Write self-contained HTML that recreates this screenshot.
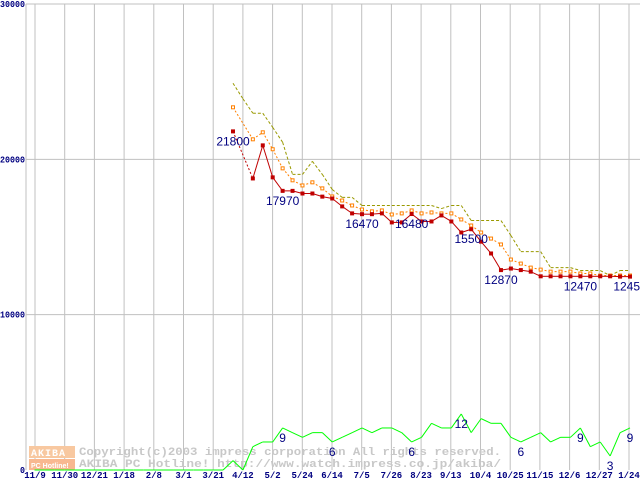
<!DOCTYPE html>
<html><head><meta charset="utf-8"><style>
html,body{margin:0;padding:0;background:#fff;width:640px;height:480px;overflow:hidden}
svg{display:block}
.yl{font:bold 9px "Liberation Mono",monospace;fill:#000080}
.xl{font:bold 9px "Liberation Mono",monospace;fill:#000080}
.vl{font:12px "Liberation Sans",sans-serif;fill:#000080}
.wm{font:bold 11px "Liberation Mono",monospace;fill:#c8c8c8}
</style></head><body>
<svg id="chart" width="640" height="480" xmlns="http://www.w3.org/2000/svg"></svg>
<script>
const dateLabels=["11/9","11/30","12/21","1/18","2/8","3/1","3/21","4/12","5/2","5/24","6/14","7/5","7/26","8/23","9/13","10/4","10/25","11/15","12/6","12/27","1/24"];
const yTicks=[0,10000,20000,30000];
const redPrice=[21800,null,18770,20900,18840,17970,17970,17800,17800,17600,17480,16970,16520,16470,16470,16520,15940,15940,16480,16000,16000,16390,16000,15290,15500,14700,13940,12870,12970,12870,12770,12470,12470,12470,12470,12470,12470,12470,12470,12450,12450];
const avgPrice=[23350,null,21290,21740,20650,19420,18650,18320,18520,18130,17610,17350,17030,16770,16650,16710,16450,16520,16710,16520,16580,16520,16520,16130,15740,15290,14900,14520,13550,13290,13030,12900,12770,12770,12770,12650,12650,12520,12520,12520,12520];
const maxPrice=[24900,23900,22970,22970,22060,21100,19030,19030,19870,19030,18060,17550,17550,17030,17030,17030,17030,17030,17030,17030,17030,16830,17030,17030,16060,16060,16060,16060,15100,14060,14060,14060,13030,13030,13030,12840,12840,12840,12520,12840,12840];
const shopCount=[0,0,0,0,0,0,0,0,0,0,0,0,0,0,0,0,0,0,0,0,2,0,5,6,6,9,8,7,8,8,6,7,8,9,8,9,9,8,6,7,10,9,9,12,8,11,10,10,7,6,7,8,6,7,7,9,5,6,3,8,9];
const priceLabels=[[0,"21800"],[5,"17970"],[13,"16470"],[18,"16480"],[24,"15500"],[27,"12870"],[35,"12470"],[40,"12450"]];
const countLabels=[[25,"9"],[30,"6"],[38,"6"],[43,"12"],[49,"6"],[55,"9"],[58,"3"],[60,"9"]];

const NS="http://www.w3.org/2000/svg";
const svg=document.getElementById('chart');
function el(t,a,p){const e=document.createElementNS(NS,t);for(const k in a)e.setAttribute(k,a[k]);(p||svg).appendChild(e);return e;}
const xi=i=>233+i*9.925;
const xg=j=>xi(j-20);
const yp=v=>470-v*0.015533;
const yc=v=>470-v*4.67;
const xgrid=k=>35+k*29.7;

const grid=el('g',{});


el('line',{x1:26,y1:4,x2:26,y2:470,stroke:'#c0c0c0','stroke-width':1},grid);
dateLabels.forEach((d,k)=>{
  const x=xgrid(k);
  el('line',{x1:x,y1:4,x2:x,y2:470,stroke:'#c0c0c0','stroke-width':1},grid);
  const t=el('text',{x:x,y:478,'text-anchor':'middle',class:'xl'});
  
  
  t.textContent=d;
});
yTicks.forEach(v=>{
  const y=yp(v);
  if(v>0) el('line',{x1:26,y1:y,x2:640,y2:y,stroke:'#c0c0c0','stroke-width':1},grid);
  const s=String(v);
  const t=el('text',{x:25,y:y+3,'text-anchor':'end',class:'yl',textLength:s.length*5,lengthAdjust:'spacingAndGlyphs'});
  
  
  t.textContent=s;
});

const wm=el('g',{});


el('rect',{x:29,y:446,width:46,height:12,fill:'#f8c8a0'},wm);
el('rect',{x:29,y:459,width:46,height:11,fill:'#f8b890'},wm);
const a1=el('text',{x:31,y:456,style:'font:bold 10px "Liberation Mono",monospace;fill:#fff;letter-spacing:1px'},wm);a1.textContent='AKIBA';
const a2=el('text',{x:31,y:468,style:'font:bold 7px "Liberation Sans",sans-serif;fill:#fff'},wm);a2.textContent='PC Hotline!';
const w1=el('text',{x:79,y:455,class:'wm',textLength:422,lengthAdjust:'spacingAndGlyphs'},wm);w1.textContent='Copyright(c)2003 impress corporation All rights reserved.';
const w2=el('text',{x:79,y:467,class:'wm',textLength:422,lengthAdjust:'spacingAndGlyphs'},wm);w2.textContent='AKIBA PC Hotline!  http://www.watch.impress.co.jp/akiba/';

// draw line: solid between consecutive values, dotted across gaps
function drawSeries(arr,fx,fy,color,dash,name){
  const g=el('g',{});
  
  
  let prev=-1;
  arr.forEach((v,i)=>{
    if(v===null)return;
    if(prev>=0){
      const gap=i-prev>1;
      const a={x1:fx(prev),y1:fy(arr[prev]),x2:fx(i),y2:fy(v),stroke:color,'stroke-width':1};
      if(dash)a['stroke-dasharray']=dash; else if(gap)a['stroke-dasharray']='2,2';
      el('line',a,g);
    }
    prev=i;
  });
  return g;
}

drawSeries(maxPrice,xi,yp,'#999900','3,2','max-price-line');

drawSeries(avgPrice,xi,yp,'#ff8000','2,2','average-price-line');
avgPrice.forEach((v,i)=>{ if(v===null)return;
  const r=el('rect',{x:xi(i)-1.5,y:yp(v)-1.5,width:3,height:3,fill:'#fff',stroke:'#ff8000','stroke-width':1});
  
  
});

drawSeries(redPrice,xi,yp,'#c00000',null,'lowest-price-line');
redPrice.forEach((v,i)=>{ if(v===null)return;
  const r=el('rect',{x:xi(i)-2,y:yp(v)-2,width:4,height:4,fill:'#c00000'});
  
  
});
priceLabels.forEach(([i,s])=>{
  const t=el('text',{x:xi(i),y:yp(redPrice[i])+14,'text-anchor':'middle',class:'vl'});
  
  
  t.textContent=s;
});

drawSeries(shopCount,xg,yc,'#00ff00',null,'shop-count-line');
countLabels.forEach(([j,s])=>{
  const t=el('text',{x:xg(j),y:yc(shopCount[j])+14,'text-anchor':'middle',class:'vl'});
  
  
  t.textContent=s;
});
</script>
</body></html>
